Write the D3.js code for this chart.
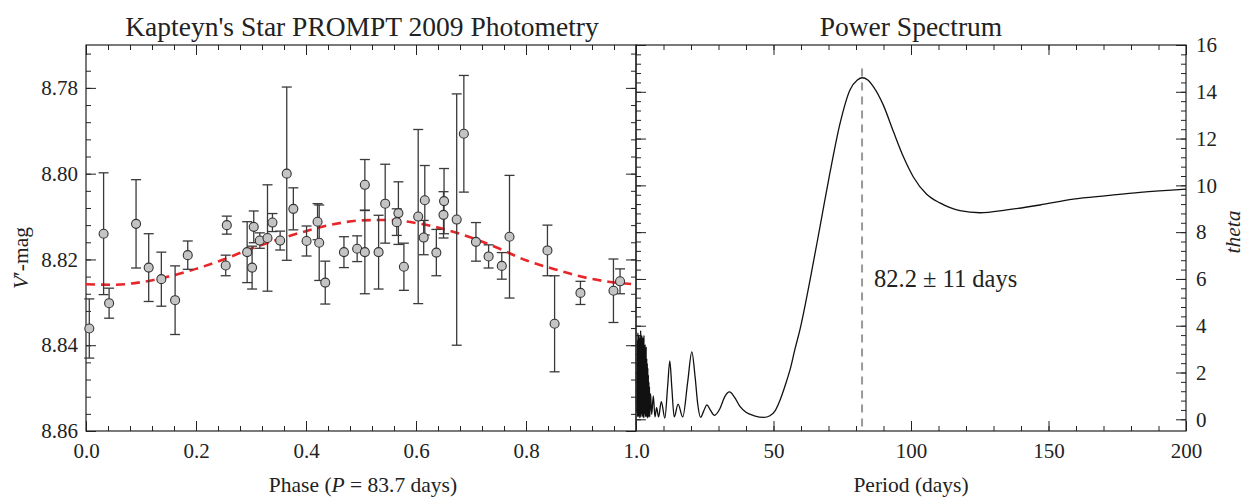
<!DOCTYPE html>
<html>
<head>
<meta charset="utf-8">
<script src="https://cdn.jsdelivr.net/npm/d3@7"></script>
<style>
  body { margin: 0; background: #fff; }
  text { font-family: "Liberation Serif", "Times New Roman", serif; fill: #222; }
</style>
</head>
<body>
<div class="chart"></div>
<script>
// Photometry: phase, V' magnitude and 1-sigma error
var phase = [0.006, 0.032, 0.042, 0.091, 0.114, 0.137, 0.162, 0.185, 0.254, 0.256,
             0.293, 0.302, 0.305, 0.316, 0.330, 0.339, 0.353, 0.365, 0.377, 0.401,
             0.421, 0.424, 0.435, 0.469, 0.493, 0.507, 0.507, 0.532, 0.544, 0.565,
             0.568, 0.578, 0.604, 0.614, 0.616, 0.637, 0.650, 0.651, 0.674, 0.687,
             0.709, 0.732, 0.756, 0.770, 0.839, 0.852, 0.899, 0.959, 0.971];
var mag = [8.8361, 8.8140, 8.8302, 8.8117, 8.8219, 8.8246, 8.8295, 8.8190, 8.8214, 8.8120,
           8.8183, 8.8219, 8.8124, 8.8156, 8.8150, 8.8114, 8.8156, 8.8000, 8.8082, 8.8157,
           8.8112, 8.8161, 8.8254, 8.8183, 8.8175, 8.8026, 8.8183, 8.8183, 8.8070, 8.8113,
           8.8092, 8.8217, 8.8100, 8.8149, 8.8062, 8.8184, 8.8096, 8.8064, 8.8107, 8.7907,
           8.8159, 8.8193, 8.8215, 8.8147, 8.8179, 8.8350, 8.8278, 8.8273, 8.8251];
var magErr = [0.0069, 0.0142, 0.0035, 0.0103, 0.0079, 0.0063, 0.0080, 0.0033, 0.0024, 0.0021,
              0.0071, 0.0050, 0.0037, 0.0018, 0.0124, 0.0021, 0.0022, 0.0202, 0.0049, 0.0035,
              0.0042, 0.0088, 0.0050, 0.0036, 0.0030, 0.0059, 0.0097, 0.0086, 0.0092, 0.0031,
              0.0073, 0.0055, 0.0203, 0.0040, 0.0081, 0.0054, 0.0054, 0.0076, 0.0293, 0.0136,
              0.0045, 0.0027, 0.0031, 0.0143, 0.0059, 0.0112, 0.0027, 0.0074, 0.0029];

// Sinusoidal fit (red dashed)
var fitPhase = [0, 0.05, 0.10, 0.15, 0.20, 0.25, 0.30, 0.35, 0.40, 0.45, 0.50,
                0.55, 0.60, 0.65, 0.70, 0.75, 0.80, 0.85, 0.90, 0.95, 1.0];
var fitMag = [8.8258, 8.8259, 8.8253, 8.8240, 8.8222, 8.8200, 8.8175, 8.8153, 8.8134, 8.8118, 8.8109,
              8.8108, 8.8115, 8.8129, 8.8149, 8.8174, 8.8202, 8.8222, 8.8240, 8.8252, 8.8258];

// Power spectrum: period (days) and theta
var period = [0.4, 0.5, 0.6, 0.7, 0.8, 0.9, 1.0, 1.1, 1.2, 1.3, 1.4, 1.5, 1.6, 1.7, 1.8, 1.9,
              2.0, 2.1, 2.2, 2.3, 2.4, 2.5, 2.6, 2.7, 2.8, 2.9, 3.0, 3.1, 3.2, 3.3, 3.4, 3.5,
              3.6, 3.7, 3.8, 3.9, 4.0, 4.1, 4.2, 4.3, 4.4, 4.5, 4.6, 4.7, 4.8, 4.9, 5.0,
              5.3, 5.7, 6.3, 6.9, 7.5, 8.2, 9.2, 10.5, 11.5, 12.3, 13.0, 13.9, 15.3, 17.0,
              18.8, 20.3, 21.5, 22.5, 23.5, 24.6, 25.8, 27.0, 28.5, 30.5, 32.2, 34.0, 35.8,
              37.8, 40.0, 43.0, 46.5, 48.7, 50.5, 52.4, 54.8, 56.0, 57.8, 59.6, 63.3, 66.9,
              70.5, 74.2, 77.8, 80.5, 82.3, 84.3, 86.3, 89.9, 93.6, 97.2, 100.8, 105.7,
              110.5, 117.8, 125.1, 134.8, 146.9, 159.0, 171.2, 183.3, 200];
var theta = [0.3, 3.4, 0.1, 3.7, 0.4, 3.2, 0.1, 3.6, 0.2, 3.5, 0.05, 3.3, 0.3, 3.8, 0.1, 3.4,
             0.2, 3.6, 0.4, 3.1, 0.1, 3.5, 0.3, 3.3, 0.05, 3.6, 0.2, 3.0, 0.4, 3.2, 0.1, 2.8,
             0.3, 3.1, 0.1, 2.6, 0.2, 2.4, 0.05, 2.2, 0.3, 1.9, 0.1, 1.6, 0.2, 1.4, 0.1,
             1.1, 0.2, 1.0, 0.1, 0.5, 0.1, 0.75, 0.05, 1.4, 2.5, 1.4, 0.1, 0.65, 0.1,
             1.6, 2.88, 1.8, 0.6, 0.08, 0.35, 0.62, 0.4, 0.17, 0.45, 0.95, 1.17, 0.95,
             0.55, 0.3, 0.15, 0.08, 0.15, 0.35, 0.83, 1.65, 2.11, 3.0, 3.82, 5.96, 8.23,
             10.52, 12.65, 14.08, 14.5, 14.6, 14.5, 14.22, 13.44, 12.3, 11.23, 10.37, 9.62,
             9.25, 8.92, 8.83, 8.95, 9.16, 9.41, 9.56, 9.70, 9.84];

var bestPeriod = 82.2;

// tick labels
var phaseTicks = [0, 0.2, 0.4, 0.6, 0.8, 1.0];
var magTicks = [8.78, 8.80, 8.82, 8.84, 8.86];
var periodTicks = [50, 100, 150, 200];
var thetaTicks = [0, 2, 4, 6, 8, 10, 12, 14, 16];

var w = 1252, h = 498;
var plotTop = 45, plotBottom = 431;

var svg = d3.select(".chart").append("svg")
  .attr("width", w).attr("height", h);

var xPhase = d3.scaleLinear().domain([0, 1]).range([86, 636]);
var yMag = d3.scaleLinear().domain([8.77, 8.86]).range([plotTop, plotBottom]);
var xPer = d3.scaleLinear().domain([0, 200]).range([636, 1186]);
var yTheta = d3.scaleLinear().domain([-0.5, 16]).range([plotBottom, plotTop]);

var phaseMinor = d3.range(0, 26).map(function(i) { return i * 0.04; });
var magMinor = d3.range(0, 23).map(function(i) { return 8.772 + i * 0.004; });
var perMinor = d3.range(0, 21).map(function(i) { return i * 10; });
var thetaMinor = d3.range(0, 41).map(function(i) { return i * 0.4; });

function drawAxis(maker, scale, tr, major, minor, fmt) {
  var g = svg.append("g").attr("transform", tr);
  g.append("g").call(maker(scale).tickValues(minor).tickSizeInner(-5).tickSizeOuter(0).tickFormat(""));
  g.append("g").call(maker(scale).tickValues(major).tickSizeInner(-10).tickSizeOuter(0)
    .tickPadding(12).tickFormat(fmt || ""));
  g.selectAll(".domain").remove();
  g.selectAll("line").attr("stroke", "#222");
  g.selectAll("text").attr("font-size", 21).attr("font-family", "Liberation Serif").attr("fill", "#222");
  return g;
}

// left panel axes
drawAxis(d3.axisBottom, xPhase, "translate(0," + plotBottom + ")", phaseTicks, phaseMinor, d3.format(".1f"));
drawAxis(d3.axisTop, xPhase, "translate(0," + plotTop + ")", phaseTicks, phaseMinor);
drawAxis(d3.axisLeft, yMag, "translate(86,0)", magTicks, magMinor, d3.format(".2f"))
  .selectAll("text").attr("dx", 4);
drawAxis(d3.axisRight, yMag, "translate(636,0)", magTicks, magMinor);

// right panel axes
drawAxis(d3.axisBottom, xPer, "translate(0," + plotBottom + ")", periodTicks, perMinor, d3.format("d"));
drawAxis(d3.axisTop, xPer, "translate(0," + plotTop + ")", periodTicks, perMinor);
drawAxis(d3.axisLeft, yTheta, "translate(636,0)", thetaTicks, thetaMinor);
drawAxis(d3.axisRight, yTheta, "translate(1186,0)", thetaTicks, thetaMinor, d3.format("d"))
  .selectAll("text").attr("dx", -2);

// frames
svg.append("rect").attr("x", 86).attr("y", plotTop).attr("width", 550).attr("height", plotBottom - plotTop)
  .attr("fill", "none").attr("stroke", "#222").attr("stroke-width", 1.2);
svg.append("rect").attr("x", 636).attr("y", plotTop).attr("width", 550).attr("height", plotBottom - plotTop)
  .attr("fill", "none").attr("stroke", "#222").attr("stroke-width", 1.2);

// fit curve
var fitLine = d3.line()
  .x(function(d, i) { return xPhase(fitPhase[i]); })
  .y(function(d) { return yMag(d); })
  .curve(d3.curveMonotoneX);
svg.append("path").attr("d", fitLine(fitMag))
  .attr("fill", "none").attr("stroke", "#e8262a").attr("stroke-width", 2.6)
  .attr("stroke-dasharray", "9,6");

// error bars
var pts = phase.map(function(p, i) { return { p: p, m: mag[i], e: magErr[i] }; });
var eb = svg.append("g").attr("stroke", "#3a3a3a").attr("stroke-width", 1.3);
eb.selectAll(".v").data(pts).enter().append("line")
  .attr("x1", function(d) { return xPhase(d.p); }).attr("x2", function(d) { return xPhase(d.p); })
  .attr("y1", function(d) { return yMag(d.m - d.e); }).attr("y2", function(d) { return yMag(d.m + d.e); });
eb.selectAll(".t").data(pts).enter().append("line")
  .attr("x1", function(d) { return xPhase(d.p) - 5; }).attr("x2", function(d) { return xPhase(d.p) + 5; })
  .attr("y1", function(d) { return yMag(d.m - d.e); }).attr("y2", function(d) { return yMag(d.m - d.e); });
eb.selectAll(".b").data(pts).enter().append("line")
  .attr("x1", function(d) { return xPhase(d.p) - 5; }).attr("x2", function(d) { return xPhase(d.p) + 5; })
  .attr("y1", function(d) { return yMag(d.m + d.e); }).attr("y2", function(d) { return yMag(d.m + d.e); });

svg.append("g").selectAll("circle").data(pts).enter().append("circle")
  .attr("cx", function(d) { return xPhase(d.p); })
  .attr("cy", function(d) { return yMag(d.m); })
  .attr("r", 4.5)
  .attr("fill", "#c4c4c4").attr("stroke", "#333").attr("stroke-width", 1.1);

// power spectrum
svg.append("line")
  .attr("x1", xPer(bestPeriod)).attr("x2", xPer(bestPeriod))
  .attr("y1", yTheta(15)).attr("y2", plotBottom)
  .attr("stroke", "#999").attr("stroke-width", 2).attr("stroke-dasharray", "8,6");

var specLine = d3.line()
  .x(function(d, i) { return xPer(period[i]); })
  .y(function(d) { return yTheta(d); })
  .curve(d3.curveMonotoneX);
svg.append("path").attr("d", specLine(theta))
  .attr("fill", "none").attr("stroke", "#111").attr("stroke-width", 1.3);

svg.append("text").attr("x", xPer(bestPeriod) + 12).attr("y", 287)
  .attr("font-size", 24.5).text("82.2 \u00b1 11 days");

// titles
svg.append("text").attr("x", 362).attr("y", 36).attr("text-anchor", "middle")
  .attr("font-size", 27.5).text("Kapteyn's Star PROMPT 2009 Photometry");
svg.append("text").attr("x", 911).attr("y", 36).attr("text-anchor", "middle")
  .attr("font-size", 27.5).text("Power Spectrum");

var xl = svg.append("text").attr("x", 363).attr("y", 492).attr("text-anchor", "middle").attr("font-size", 21.5);
xl.append("tspan").text("Phase (");
xl.append("tspan").attr("font-style", "italic").text("P");
xl.append("tspan").text(" = 83.7 days)");

svg.append("text").attr("x", 911).attr("y", 492).attr("text-anchor", "middle")
  .attr("font-size", 21.5).text("Period (days)");

var yl = svg.append("text").attr("transform", "translate(28,258) rotate(-90)")
  .attr("text-anchor", "middle").attr("font-size", 21.5);
yl.append("tspan").attr("font-style", "italic").text("V");
yl.append("tspan").text("\u2032-mag");

svg.append("text").attr("transform", "translate(1240,232) rotate(-90)")
  .attr("text-anchor", "middle").attr("font-size", 21.5).attr("font-style", "italic").text("theta");
</script>
</body>
</html>
